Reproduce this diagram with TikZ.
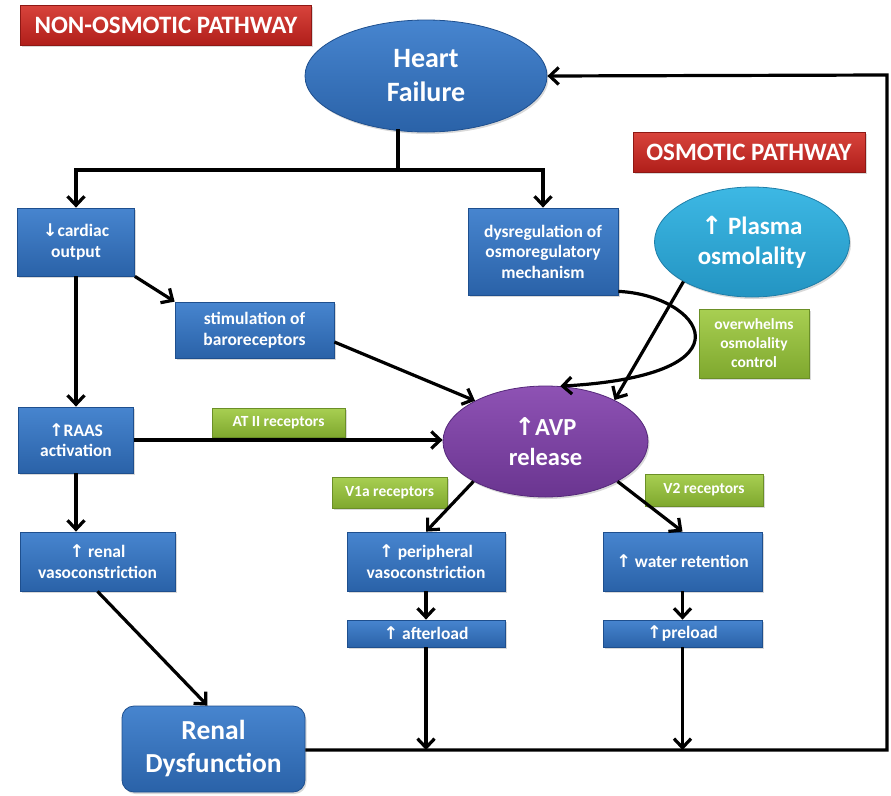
\documentclass[tikz,border=0pt]{standalone}
\usepackage{fontspec}
\setmainfont{Carlito}
\newfontfamily\arrfont{DejaVu Sans}
\usetikzlibrary{shapes.geometric,arrows.meta,shadows,calc}
\newcommand\uarr{{\arrfont\bfseries ↑}}
\newcommand\darr{{\arrfont\bfseries ↓}}
\definecolor{bluetop}{HTML}{4785CF}
\definecolor{bluebot}{HTML}{2A62A8}
\definecolor{blueedge}{HTML}{1E4F8E}
\definecolor{redtop}{HTML}{D8443C}
\definecolor{redbot}{HTML}{B01E1A}
\definecolor{rededge}{HTML}{8E1814}
\definecolor{greentop}{HTML}{A8CF52}
\definecolor{greenbot}{HTML}{7FA82E}
\definecolor{greenedge}{HTML}{6B8F27}
\definecolor{cyantop}{HTML}{3DB8E4}
\definecolor{cyanbot}{HTML}{2394C2}
\definecolor{cyanedge}{HTML}{1F7EA8}
\definecolor{purptop}{HTML}{8E52B4}
\definecolor{purpbot}{HTML}{6A3590}
\definecolor{purpedge}{HTML}{55287A}
\begin{document}
\begin{tikzpicture}[x=1pt,y=-1pt,
  base/.style={text=white,align=center,inner sep=2pt,
    drop shadow={shadow xshift=1.5pt,shadow yshift=-2pt,opacity=0.3}},
  bluebox/.style={base,rectangle,draw=blueedge,line width=0.8pt,top color=bluetop,bottom color=bluebot,
    font=\fontsize{17.5}{20.5}\selectfont\bfseries},
  redbox/.style={base,rectangle,draw=rededge,line width=0.8pt,top color=redtop,bottom color=redbot,
    font=\fontsize{25}{28}\selectfont\bfseries},
  greenbox/.style={base,rectangle,draw=greenedge,line width=0.8pt,top color=greentop,bottom color=greenbot,
    font=\fontsize{15.5}{19}\selectfont\bfseries},
  blueell/.style={base,ellipse,draw=blueedge,line width=0.8pt,top color=bluetop,bottom color=bluebot},
  cyanell/.style={base,ellipse,draw=cyanedge,line width=0.8pt,top color=cyantop,bottom color=cyanbot},
  purpell/.style={base,ellipse,draw=purpedge,line width=0.8pt,top color=purptop,bottom color=purpbot},
  conn/.style={line width=3.2pt,-{Straight Barb[length=9pt,width=17pt]}},
  plainline/.style={line width=3.2pt},
]
\useasboundingbox (0,0) rectangle (891,795);

% pathway labels
\node[redbox,minimum width=291,minimum height=40] (nonosm) at (166,25) {NON-OSMOTIC PATHWAY};
\node[redbox,minimum width=232,minimum height=40] (osm) at (749,152) {OSMOTIC PATHWAY};

% ellipses
\node[blueell,minimum width=242,minimum height=112,font=\fontsize{28}{34}\selectfont\bfseries] (hf) at (426,76) {Heart\\Failure};
\node[cyanell,minimum width=195,minimum height=110,font=\fontsize{25}{30}\selectfont\bfseries] (plasma) at (752,242) {\uarr\ Plasma\\osmolality};
\node[purpell,minimum width=205,minimum height=111,font=\fontsize{24.5}{30}\selectfont\bfseries] (avp) at (545.5,441.5) {\uarr AVP\\release};

% blue boxes
\node[bluebox,minimum width=117,minimum height=68] (co) at (76,242) {\darr cardiac\\output};
\node[bluebox,minimum width=150,minimum height=87] (dys) at (543,251.5) {dysregulation of\\osmoregulatory\\mechanism};
\node[bluebox,minimum width=159,minimum height=56] (baro) at (254.5,330) {stimulation of\\baroreceptors};
\node[bluebox,minimum width=115,minimum height=66] (raas) at (76,440) {\uarr RAAS\\activation};
\node[bluebox,minimum width=155,minimum height=59] (renalv) at (97.5,561.5) {\uarr\ renal\\vasoconstriction};
\node[bluebox,minimum width=158,minimum height=59] (periph) at (426,561.5) {\uarr\ peripheral\\vasoconstriction};
\node[bluebox,minimum width=159,minimum height=59] (water) at (682.5,561.5) {\uarr\ water retention};
\node[bluebox,minimum width=158,minimum height=27,inner sep=1pt] (after) at (426,633.5) {\uarr\ afterload};
\node[bluebox,minimum width=159,minimum height=27,inner sep=1pt] (pre) at (682.5,633.5) {\uarr preload};
\node[bluebox,rounded corners=12pt,minimum width=183,minimum height=86,font=\fontsize{27.5}{33}\selectfont\bfseries] (rd) at (213.5,749) {Renal\\Dysfunction};

% green labels
\node[greenbox,minimum width=110,minimum height=69] (over) at (754,343.5) {overwhelms\\osmolality\\control};
\node[greenbox,minimum width=133,minimum height=29] (at2) at (278.5,422.5) {AT II receptors};
\node[greenbox,minimum width=115,minimum height=31] (v1a) at (389.5,492.5) {V1a receptors};
\node[greenbox,minimum width=118,minimum height=32] (v2) at (704,490) {V2 receptors};

% connectors
\coordinate (split) at (398,170);
\draw[plainline] ($(split |- hf.south)+(0,-3)$) -- (split);
\draw[conn] (split) -| (co.north);
\draw[conn] (split) -| (dys.north);
\draw[conn] (co.south) -- (raas.north);
\draw[conn] (co.south east) -- (baro.north west);
\draw[conn] ($(baro.east)+(0,12)$) -- (avp.150);
\draw[conn] ($(dys.south east)+(0,-4)$) .. controls (700,295) and (760,375) .. (avp.75);
\draw[conn] (plasma.210) -- (avp.31);
\draw[conn] (raas.east) -- (raas.east -| avp.west);
\draw[conn] (raas.south) -- (raas.south |- renalv.north);
\draw[conn] (avp.209) -- (periph.north);
\draw[conn] (avp.-29) -- (water.north);
\draw[conn] (renalv.south) -- ($(rd.north)+(-6,0)$);
\draw[conn] (periph.south) -- (after.north);
\draw[conn] (water.south) -- (pre.north);
\coordinate (loopA) at (887,750);
\coordinate (loopB) at (887,75);
\draw[conn] (after.south) -- (after.south |- loopA);
\draw[conn] (pre.south) -- (pre.south |- loopA);
\draw[conn] (rd.east |- loopA) -- (loopA) -- (loopB) -- (hf.east);
\end{tikzpicture}
\end{document}
